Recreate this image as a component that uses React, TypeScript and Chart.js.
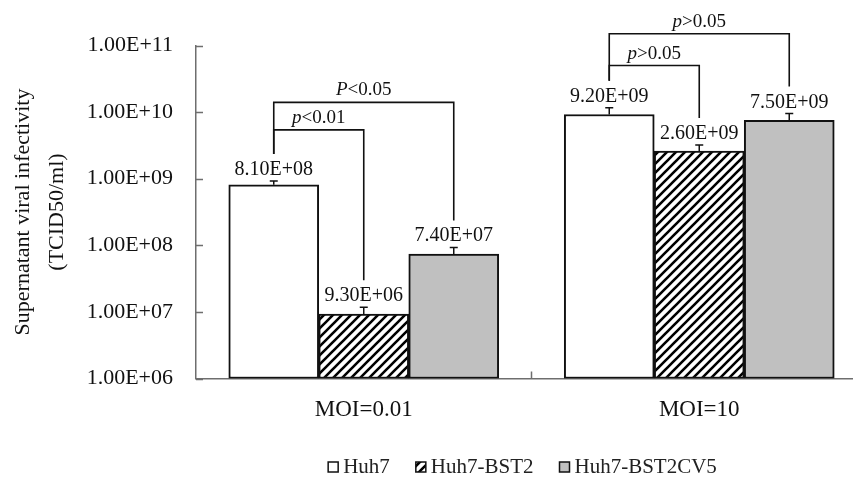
import React, { useEffect, useRef } from 'react';
import { Chart, registerables } from 'chart.js';
Chart.register(...registerables);

const categories = ['MOI=0.01', 'MOI=10'];
const seriesNames = ['Huh7', 'Huh7-BST2', 'Huh7-BST2CV5'];
const huh7 = [8.1e8, 9.2e9];
const huh7Err = [1.1e8, 2.4e9];
const bst2 = [9.3e6, 2.6e9];
const bst2Err = [2.4e6, 6.0e8];
const bst2cv5 = [7.4e7, 7.5e9];
const bst2cv5Err = [1.9e7, 2.0e9];
const yTicks = [1e6, 1e7, 1e8, 1e9, 1e10, 1e11];
const yTitle = ['Supernatant viral infectivity', '(TCID50/ml)'];

// significance brackets
const bracketCategory = [0, 0, 1, 1];
const bracketFrom = [0, 0, 0, 0];
const bracketTo = [1, 2, 1, 2];
const bracketLevel = [5.4e9, 1.4e10, 5.0e10, 1.5e11];
const bracketSymbol = ['p', 'P', 'p', 'p'];
const bracketText = ['<0.01', '<0.05', '>0.05', '>0.05'];

const FONT = '"Liberation Serif", "Times New Roman", serif';
const INK = '#111111';

function fmt(v: number): string {
  const e = Math.floor(Math.log10(v) + 1e-9);
  const m = v / Math.pow(10, e);
  return m.toFixed(2) + 'E+' + String(e).padStart(2, '0');
}

function makeHatch(): CanvasPattern | string {
  const s = 9;
  const c = document.createElement('canvas');
  c.width = s;
  c.height = s;
  const g = c.getContext('2d');
  if (!g) return '#888';
  g.fillStyle = '#ffffff';
  g.fillRect(0, 0, s, s);
  g.strokeStyle = '#000000';
  g.lineWidth = 2.6;
  g.beginPath();
  for (const k of [-1, 0, 1]) {
    g.moveTo(k * s - 2, s + 2);
    g.lineTo(k * s + s + 2, -2);
  }
  g.stroke();
  const p = g.createPattern(c, 'repeat');
  return p || '#888';
}

export default function App() {
  const ref = useRef<HTMLCanvasElement>(null);
  useEffect(() => {
    const canvas = ref.current;
    if (!canvas) return;
    const hatch = makeHatch();
    const fills: any[] = ['#ffffff', hatch, '#c0c0c0'];
    const values = [huh7, bst2, bst2cv5];
    const errs = [huh7Err, bst2Err, bst2cv5Err];

    const annot = {
      id: 'annot',
      afterDraw(chart: any) {
        const ctx: CanvasRenderingContext2D = chart.ctx;
        const y = chart.scales.y;
        const x = chart.scales.x;
        const area = chart.chartArea;
        ctx.save();
        // inward ticks
        ctx.strokeStyle = '#6e6e6e';
        ctx.lineWidth = 1.5;
        ctx.beginPath();
        for (const t of yTicks) {
          const py = Math.round(y.getPixelForValue(t)) + 0.5;
          ctx.moveTo(area.left, py);
          ctx.lineTo(area.left + 7, py);
        }
        for (let i = 1; i < categories.length; i++) {
          const bx = (x.getPixelForValue(i - 1) + x.getPixelForValue(i)) / 2;
          ctx.moveTo(bx, area.bottom);
          ctx.lineTo(bx, area.bottom - 7);
        }
        ctx.stroke();

        // error bars and value labels
        const capY: number[][] = [];
        ctx.strokeStyle = INK;
        ctx.fillStyle = INK;
        ctx.lineWidth = 1.5;
        ctx.font = `20px ${FONT}`;
        ctx.textAlign = 'center';
        ctx.textBaseline = 'alphabetic';
        values.forEach((arr, i) => {
          const meta = chart.getDatasetMeta(i);
          capY[i] = [];
          arr.forEach((v, j) => {
            const bar = meta.data[j];
            const cy = y.getPixelForValue(v + errs[i][j]);
            capY[i][j] = cy;
            ctx.beginPath();
            ctx.moveTo(bar.x, bar.y);
            ctx.lineTo(bar.x, cy);
            ctx.moveTo(bar.x - 4, cy);
            ctx.lineTo(bar.x + 4, cy);
            ctx.stroke();
            ctx.fillText(fmt(v), bar.x, cy - 6);
          });
        });

        // brackets
        ctx.lineWidth = 1.6;
        bracketLevel.forEach((lvl, k) => {
          const c = bracketCategory[k];
          const f = bracketFrom[k];
          const t = bracketTo[k];
          const xL = chart.getDatasetMeta(f).data[c].x;
          const xR = chart.getDatasetMeta(t).data[c].x;
          const yH = y.getPixelForValue(lvl);
          ctx.beginPath();
          ctx.moveTo(xL, capY[f][c] - 27);
          ctx.lineTo(xL, yH);
          ctx.lineTo(xR, yH);
          ctx.lineTo(xR, capY[t][c] - 27);
          ctx.stroke();
          // label
          const italic = `italic 19px ${FONT}`;
          const normal = `19px ${FONT}`;
          ctx.font = italic;
          const w1 = ctx.measureText(bracketSymbol[k]).width;
          ctx.font = normal;
          const w2 = ctx.measureText(bracketText[k]).width;
          const start = (xL + xR) / 2 - (w1 + w2) / 2;
          ctx.textAlign = 'left';
          ctx.textBaseline = 'middle';
          ctx.font = italic;
          ctx.fillText(bracketSymbol[k], start, yH - 12);
          ctx.font = normal;
          ctx.fillText(bracketText[k], start + w1, yH - 12);
        });

        // legend
        ctx.font = `21px ${FONT}`;
        ctx.textBaseline = 'middle';
        ctx.textAlign = 'left';
        const box = 10;
        const gapText = 5;
        const gapItem = 26;
        const widths = seriesNames.map((n) => ctx.measureText(n).width);
        const total = widths.reduce((a, b) => a + b, 0) + seriesNames.length * (box + gapText) + gapItem * (seriesNames.length - 1);
        let lx = (area.left + area.right) / 2 - 9 - total / 2;
        const ly = 467;
        seriesNames.forEach((n, i) => {
          ctx.fillStyle = fills[i];
          ctx.fillRect(lx, ly - box / 2, box, box);
          ctx.strokeStyle = INK;
          ctx.lineWidth = 1.5;
          ctx.strokeRect(lx, ly - box / 2, box, box);
          ctx.fillStyle = '#222222';
          ctx.fillText(n, lx + box + gapText, ly);
          lx += box + gapText + widths[i] + gapItem;
        });
        ctx.restore();
      },
    };

    const chart = new Chart(canvas, {
      type: 'bar',
      data: {
        labels: categories,
        datasets: seriesNames.map((n, i) => ({
          label: n,
          data: values[i],
          backgroundColor: fills[i],
          borderColor: INK,
          borderWidth: 2,
          borderSkipped: false,
          barThickness: 90,
        })),
      },
      options: {
        responsive: false,
        animation: false,
        events: [],
        layout: { padding: { left: 0, top: 45.5, right: 11, bottom: 0 } },
        plugins: {
          legend: { display: false },
          tooltip: { enabled: false },
        },
        scales: {
          x: {
            type: 'category',
            grid: { display: false, drawTicks: false },
            border: { display: true, color: '#6e6e6e', width: 1.5 },
            ticks: {
              color: INK,
              padding: 18,
              font: { family: FONT, size: 23 },
            },
            afterFit(scale: any) {
              scale.height = 480 - 378.5;
            },
          },
          y: {
            type: 'logarithmic',
            min: 1e6,
            max: 1e11,
            grid: { display: false, drawTicks: false },
            border: { display: true, color: '#6e6e6e', width: 1.5 },
            afterBuildTicks(scale: any) {
              scale.ticks = yTicks.map((v) => ({ value: v }));
            },
            ticks: {
              color: INK,
              padding: 23,
              font: { family: FONT, size: 22 },
              callback: (v: any) => fmt(Number(v)),
            },
            title: {
              display: true,
              text: yTitle,
              color: INK,
              font: { family: FONT, size: 22, lineHeight: '34px' },
              padding: { top: 6, bottom: 0 },
            },
            afterFit(scale: any) {
              scale.width = 196;
            },
          },
        },
      },
      plugins: [annot],
    } as any);
    return () => chart.destroy();
  }, []);
  return (
    <div
      style={{
        position: 'fixed',
        left: 0,
        top: 0,
        width: 853,
        height: 480,
        overflow: 'hidden',
        background: '#ffffff',
      }}
    >
      <canvas ref={ref} width={878} height={480} style={{ display: 'block' }} />
    </div>
  );
}
